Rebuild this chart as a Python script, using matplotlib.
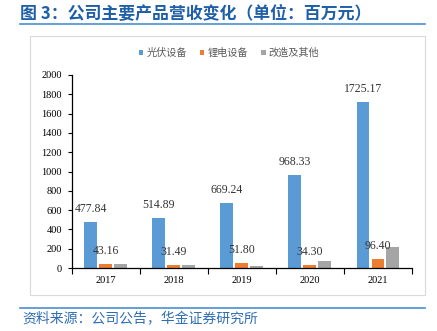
import numpy as np
import matplotlib
matplotlib.use('Agg')
import matplotlib.pyplot as plt
from matplotlib.patches import Rectangle
from matplotlib.lines import Line2D

plt.rcParams['font.family'] = ['Noto Sans CJK SC', 'DejaVu Sans']

years = ['2017', '2018', '2019', '2020', '2021']
series_names = ['光伏设备', '锂电设备', '改造及其他']
pv = [477.84, 514.89, 669.24, 968.33, 1725.17]
li = [43.16, 31.49, 51.80, 34.30, 96.40]
other = [38, 31, 24, 76, 218]
colors = ['#5B9BD5', '#ED7D31', '#A5A5A5']

serif = ['Liberation Serif', 'DejaVu Serif']

fig = plt.figure(figsize=(4.37, 3.31), dpi=100)

# title and rules
fig.text(20 / 437, 1 - 14 / 331, '图 3：公司主要产品营收变化（单位：百万元）',
         fontsize=12.2, fontweight='bold', color='#1F5FA8', va='center', ha='left')
fig.add_artist(Line2D([20 / 437, 425 / 437], [1 - 24 / 331] * 2, color='#4A8FD0', lw=1.2))
fig.add_artist(Line2D([20 / 437, 425 / 437], [1 - 308 / 331] * 2, color='#4A8FD0', lw=1.2))
fig.text(22 / 437, 1 - 319 / 331, '资料来源：公司公告，华金证券研究所',
         fontsize=10, color='#2E6DB4', va='center', ha='left', style='italic')

# chart frame
fig.add_artist(Rectangle((30 / 437, 1 - 295 / 331), 395 / 437, 259 / 331,
                         fill=False, edgecolor='#D9D9D9', lw=0.8))

ax = fig.add_axes([71.7 / 437, 63 / 331, 340.3 / 437, 193 / 331])
x = np.arange(len(years))
w = 0.19
step = 0.22
data = [pv, li, other]
for i, (vals, c, name) in enumerate(zip(data, colors, series_names)):
    ax.bar(x + (i - 1) * step, vals, width=w, color=c, label=name)

for xi, v in zip(x, pv):
    ax.annotate('%.2f' % v, (xi - step, v), xytext=(0, 5), textcoords='offset points',
                ha='center', va='bottom', fontsize=8.5, family=serif, color='#333333')
for xi, v in zip(x, li):
    ax.annotate('%.2f' % v, (xi, v), xytext=(0, 5), textcoords='offset points',
                ha='center', va='bottom', fontsize=8.5, family=serif, color='#333333')

ax.set_xlim(-0.5, len(years) - 0.5)
ax.set_ylim(0, 2000)
ax.set_yticks(np.arange(0, 2001, 200))
ax.set_xticks(x)
ax.set_xticklabels(years, family=serif, fontsize=7.5)
ax.set_xticks(np.arange(-0.5, len(years), 1), minor=True)
ax.tick_params(axis='x', which='major', length=0, pad=6)
ax.tick_params(axis='x', which='minor', length=4, direction='out', width=0.8)
ax.tick_params(axis='y', length=3, direction='out', width=0.8, pad=4, labelsize=7.5)
for lab in ax.get_yticklabels():
    lab.set_family(serif)
for s in ['top', 'right']:
    ax.spines[s].set_visible(False)
for s in ['left', 'bottom']:
    ax.spines[s].set_linewidth(0.9)

leg = fig.legend(loc='center', bbox_to_anchor=(229 / 437, 1 - 53 / 331), ncol=3,
                 frameon=False, fontsize=7.3, handlelength=0.45, handleheight=0.45,
                 handletextpad=0.3, columnspacing=1.3)
for t in leg.get_texts():
    t.set_color('#595959')

fig.savefig('out.png', dpi=100)
